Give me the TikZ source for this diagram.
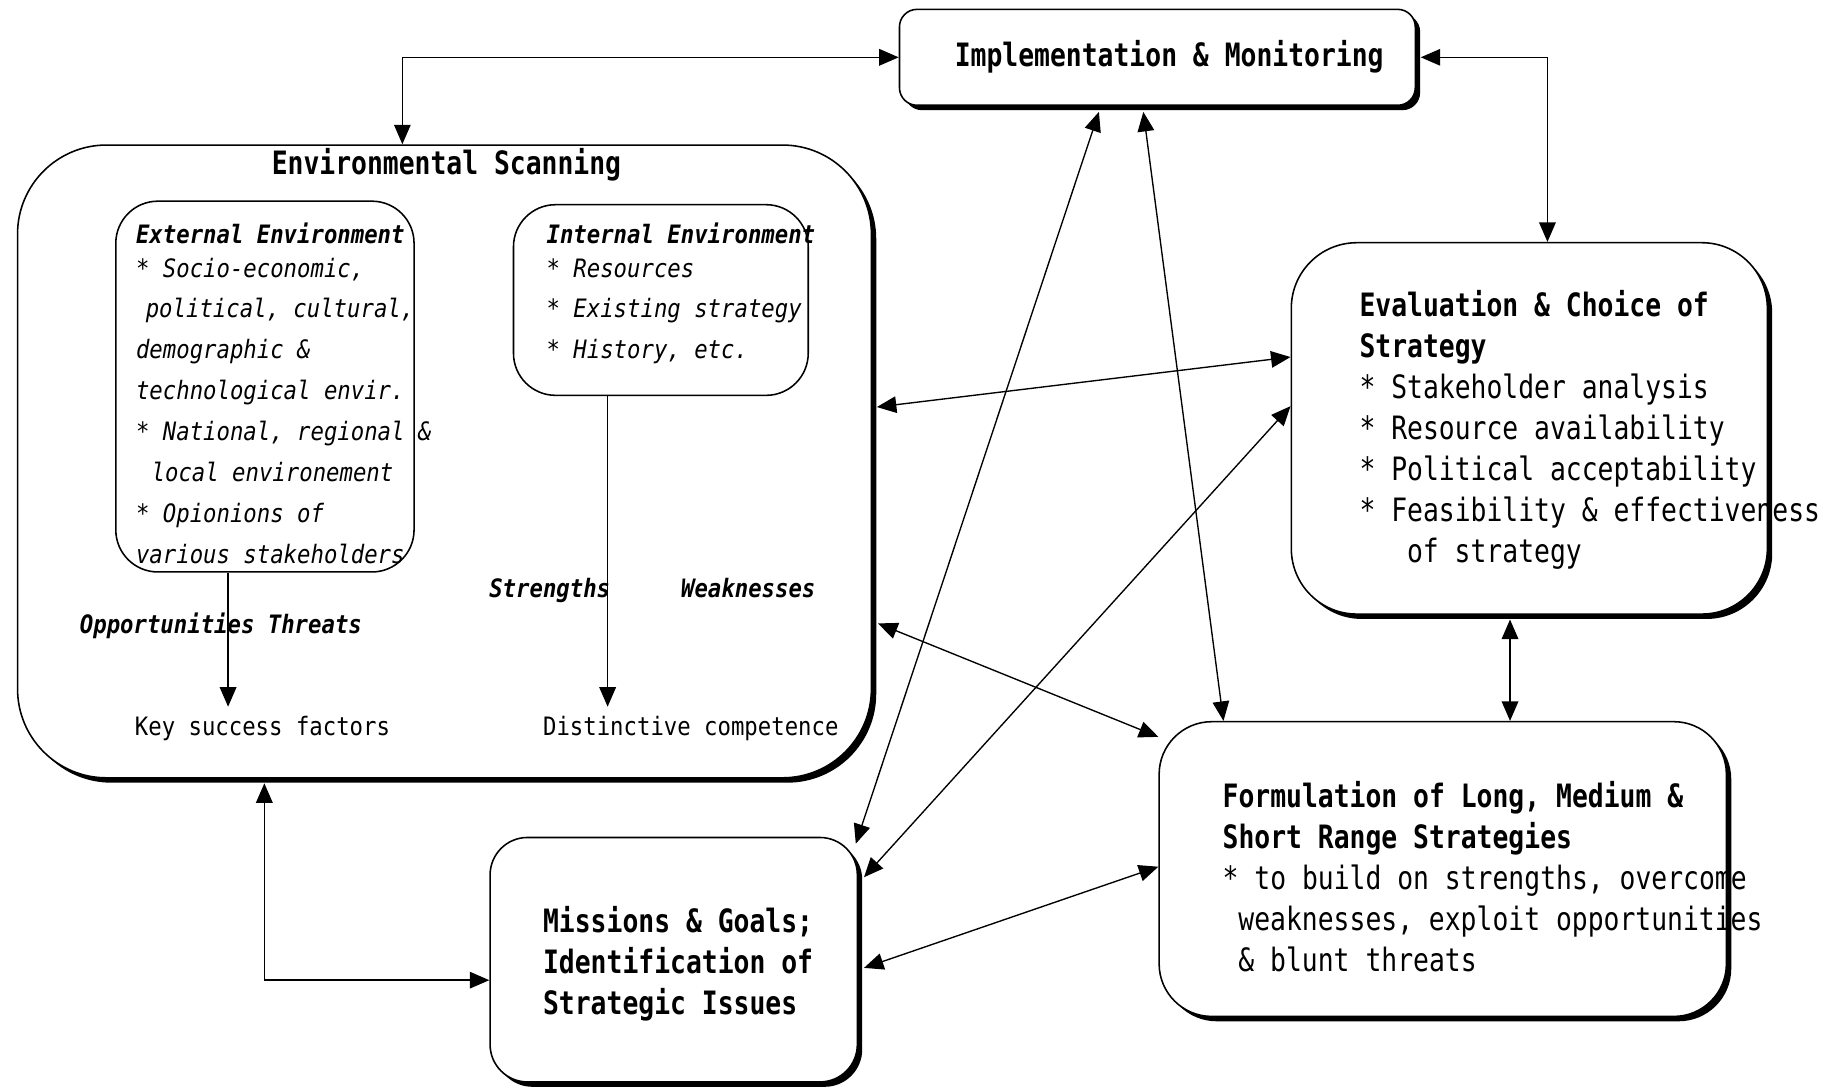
\documentclass[tikz,border=0pt]{standalone}
\usepackage{fontspec}
\usetikzlibrary{arrows.meta,calc,shadows}
\newfontfamily\gfL[FakeStretch=0.82]{DejaVu Sans Mono}
\newfontfamily\gfS[FakeStretch=0.88]{DejaVu Sans Mono}
\newcommand\myL{\gfL\fontsize{16.5pt}{21pt}\selectfont}
\newcommand\myS{\gfS\fontsize{13pt}{21pt}\selectfont}
\begin{document}
\begin{tikzpicture}[x=0.6pt,y=-0.6pt,
  >={Triangle[length=10pt,width=8.5pt]},
  box/.style={draw, line width=0.8pt, fill=white, rounded corners=#1, inner sep=0pt},
  sbox/.style={box=#1, drop shadow={shadow xshift=2.5pt, shadow yshift=-2.5pt, fill=black, opacity=1}},
  lbl/.style={inner sep=0pt, anchor=base west},
  blk/.style={inner sep=0pt, anchor=north west, align=left},
  conn/.style={line width=0.7pt}]
\fill[white] (0,0) rectangle (1568,930);
\useasboundingbox (0,0) rectangle (1568,930);

% boxes
\node[sbox=9pt, minimum width=264.6pt, minimum height=49.2pt] (impl) at (989.5,49) {};
\node[sbox=45.6pt, minimum width=438pt, minimum height=324.6pt] (env) at (380,394.5) {};
\node[box=21.6pt, minimum width=153pt, minimum height=190.2pt] (ext) at (226.5,330.5) {};
\node[box=21.6pt, minimum width=151.2pt, minimum height=97.8pt] (int) at (565,256.5) {};
\node[sbox=33.6pt, minimum width=244.2pt, minimum height=190.5pt] (eval) at (1307.5,366.25) {};
\node[sbox=27pt, minimum width=291pt, minimum height=151.2pt] (form) at (1233.5,743) {};
\node[sbox=19.2pt, minimum width=188.4pt, minimum height=125.4pt] (miss) at (576,820.5) {};

% texts
\node[lbl, font=\myL\bfseries] (timpl) at (816,57) {Implementation \& Monitoring};
\node[lbl, font=\myL\bfseries] (tenv) at (232,149) {Environmental Scanning};
\node[blk, font=\myS\itshape] (text) at (116,183) {\strut\textbf{External Environment}\\[-3.6pt]
* Socio-economic,\\
\hspace*{5pt}political, cultural,\\
demographic \&\\
technological envir.\\
* National, regional \&\\
\hspace*{8pt}local environement\\
* Opionions of\\
various stakeholders};
\node[blk, font=\myS\itshape] (tint) at (467,183) {\strut\textbf{Internal Environment}\\[-3.6pt]
* Resources\\
* Existing strategy\\
* History, etc.};
\node[lbl, font=\myS\bfseries\itshape] (topp) at (68,542) {Opportunities Threats};
\node[lbl, font=\myS\bfseries\itshape] (tstr) at (418,511) {Strengths};
\node[lbl, font=\myS\bfseries\itshape] (twea) at (582,511) {Weaknesses};
\node[lbl, font=\myS] (ksf) at (115,629) {Key success factors};
\node[lbl, font=\myS] (dc) at (464,629) {Distinctive competence};
\node[blk, font=\myL] (teval) at (1162,246) {\strut\textbf{Evaluation \& Choice of}\\
\textbf{Strategy}\\
* Stakeholder analysis\\
* Resource availability\\
* Political acceptability\\
* Feasibility \& effectiveness\\
\hspace*{24.4pt}of strategy};
\node[blk, font=\myL] (tform) at (1045,665.5) {\strut\textbf{Formulation of Long, Medium \&}\\
\textbf{Short Range Strategies}\\
* to build on strengths, overcome\\
\hspace*{8.1pt}weaknesses, exploit opportunities\\
\hspace*{8.1pt}\& blunt threats};
\node[blk, font=\myL\bfseries] (tmiss) at (464,772.5) {\strut Missions \& Goals;\\
Identification of\\
Strategic Issues};

% connectors
\draw[conn,<->] (impl.west) -| ($(env.north)+(-36,0)$);
\draw[conn,<->] ($(impl.east)+(4,0)$) -| ($(eval.north)+(15.5,0)$);
\draw[conn,<->] ($(eval.west)+(0,-61)$) -- ($(env.east)+(4,-46.5)$);
\draw[conn,<->] ($(eval.west)+(0,-19)$) -- ($(miss.east)+(5,-70.5)$);
\draw[conn,<->] ($(impl.south)+(-50,5)$) -- ($(miss.north east)+(-2,6)$);
\draw[conn,<->] ($(impl.south)+(-12,5)$) -- ($(form.north)+(-187.5,0)$);
\draw[conn,<->] ($(env.east)+(5,138.5)$) -- ($(form.west)+(0,-113)$);
\draw[conn,<->] ($(form.west)+(0,-2)$) -- ($(miss.east)+(5,7)$);
\draw[conn,<->] ($(eval.south)+(-16.5,4)$) -- ($(form.north)+(57.5,0)$);
\draw[conn,<->] ($(env.south)+(-154,4)$) |- ($(miss.west)+(0,17.5)$);
\coordinate (k1) at ($(ext.south)+(-31.5,0)$);
\path (k1 |- ksf.north) coordinate (k2);
\draw[conn,->] (k1) -- ($(k2)+(0,-8)$);
\coordinate (l1) at ($(int.south)+(-45.5,0)$);
\path (l1 |- dc.north) coordinate (l2);
\draw[conn,->] (l1) -- ($(l2)+(0,-8)$);
\end{tikzpicture}
\end{document}
